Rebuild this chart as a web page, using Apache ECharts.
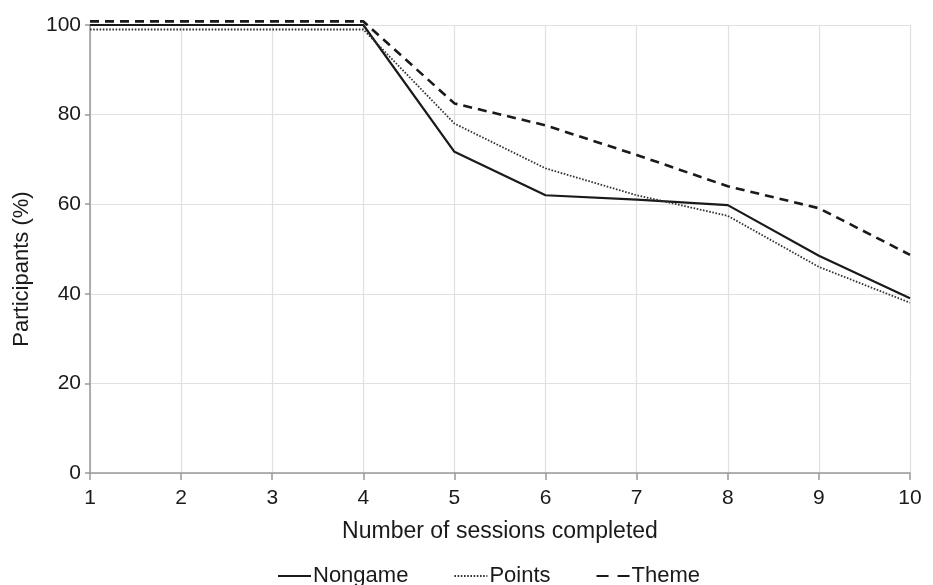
<!DOCTYPE html>
<html>
<head>
<meta charset="utf-8">
<script src="https://cdn.jsdelivr.net/npm/echarts@6/dist/echarts.min.js"></script>
<style>html,body{margin:0;padding:0;background:#fff}#c{width:933px;height:585px}</style>
</head>
<body>
<div id="c"></div>
<script>
var sessions = [1, 2, 3, 4, 5, 6, 7, 8, 9, 10];
var nongame = [100, 100, 100, 100, 71.7, 62, 61, 59.8, 48.5, 39];
var points  = [99, 99, 99, 99, 78, 68, 62, 57.4, 46, 38];
var theme   = [100.8, 100.8, 100.8, 100.8, 82.5, 77.6, 71, 64, 59.1, 48.7];
var yTicks  = [0, 20, 40, 60, 80, 100];

function pairs(vals) { return sessions.map(function (s, i) { return [s, vals[i]]; }); }

var font = 'Liberation Sans, Arial, sans-serif';
var chart = echarts.init(document.getElementById('c'), null, {renderer: 'canvas'});
chart.setOption({
  animation: false,
  grid: {left: 90, right: 23, top: 25, bottom: 112, containLabel: false},
  xAxis: {
    type: 'value', min: 1, max: 10, interval: 1,
    name: 'Number of sessions completed', nameLocation: 'middle', nameGap: 47,
    nameTextStyle: {fontFamily: font, fontSize: 23, color: '#1a1a1a'},
    axisLine: {show: true, lineStyle: {color: '#999', width: 1.5}},
    axisTick: {show: true, length: 7, lineStyle: {color: '#999', width: 1.5}},
    axisLabel: {fontFamily: font, fontSize: 21, color: '#1a1a1a', margin: 15},
    splitLine: {show: true, lineStyle: {color: '#e0e0e0', width: 1.2}}
  },
  yAxis: {
    type: 'value', min: 0, max: 100, interval: 20,
    name: 'Participants (%)', nameLocation: 'middle', nameGap: 57, nameRotate: 90,
    nameTextStyle: {fontFamily: font, fontSize: 22, color: '#1a1a1a', padding: [0, 40, 0, 0]},
    axisLine: {show: true, lineStyle: {color: '#999', width: 1.5}},
    axisTick: {show: true, length: 5, lineStyle: {color: '#999', width: 1.5}},
    axisLabel: {fontFamily: font, fontSize: 21, color: '#1a1a1a', margin: 9,
      formatter: function (v) { return yTicks.indexOf(v) >= 0 ? String(v) : ''; }},
    splitLine: {show: true, lineStyle: {color: '#e0e0e0', width: 1.2}}
  },
  legend: {
    top: 565, left: 277, padding: 0, itemWidth: 33, itemHeight: 14, itemGap: 45,
    itemStyle: {opacity: 0},
    textStyle: {fontFamily: font, fontSize: 22, color: '#1a1a1a', padding: [0, 0, 0, -3]},
    data: [
      {name: 'Nongame'},
      {name: 'Points'},
      {name: 'Theme', lineStyle: {type: [12, 9]}}
    ]
  },
  series: [
    {name: 'Nongame', type: 'line', data: pairs(nongame), symbol: 'none', clip: false,
      lineStyle: {color: '#1a1a1a', width: 2.2, type: 'solid'}, itemStyle: {color: '#1a1a1a'}},
    {name: 'Points', type: 'line', data: pairs(points), symbol: 'none', clip: false,
      lineStyle: {color: '#333', width: 1.8, type: [1.6, 1.6]}, itemStyle: {color: '#333'}},
    {name: 'Theme', type: 'line', data: pairs(theme), symbol: 'none', clip: false,
      lineStyle: {color: '#1a1a1a', width: 2.6, type: [9, 6]}, itemStyle: {color: '#1a1a1a'}}
  ]
});
</script>
</body>
</html>
